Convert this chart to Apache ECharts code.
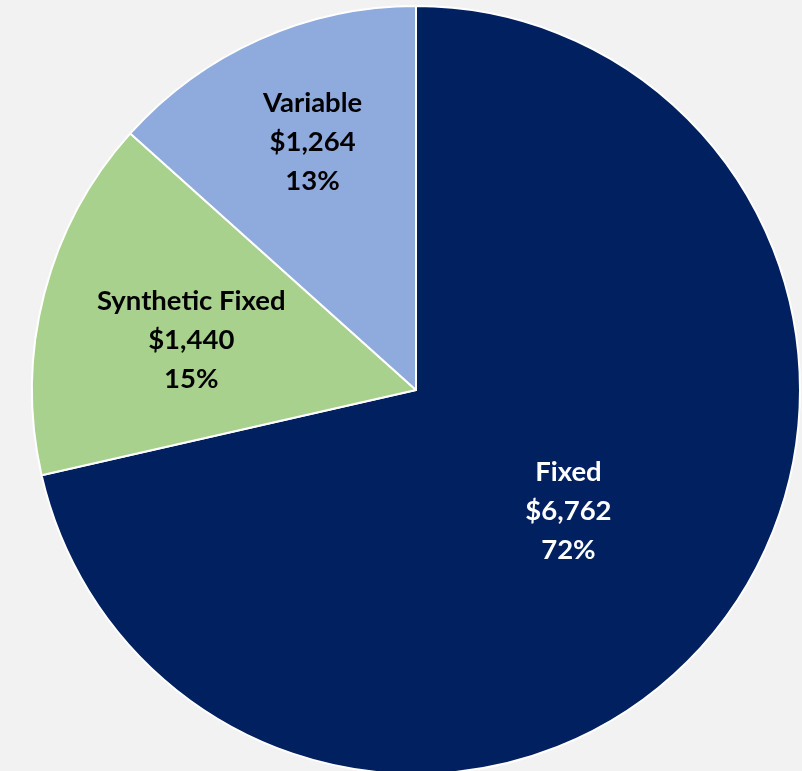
<!DOCTYPE html>
<html>
<head>
<meta charset="utf-8">
<script src="https://cdn.jsdelivr.net/npm/echarts@6/dist/echarts.min.js"></script>
<style>
html,body{margin:0;padding:0;background:#f2f2f2;}
#c{width:802px;height:771px;}
</style>
</head>
<body>
<div id="c"></div>
<script>
const categories = ['Fixed', 'Synthetic Fixed', 'Variable'];
const values = [6762, 1440, 1264];
const colors = ['#002060', '#A9D18E', '#8FAADC'];
const labelColors = ['#ffffff', '#000000', '#000000'];
const labelOffsets = [[0, 0], [-36, -1], [-24, -70]];

const chart = echarts.init(document.getElementById('c'));
chart.setOption({
  backgroundColor: '#f2f2f2',
  animation: false,
  series: [{
    type: 'pie',
    center: [416, 390],
    radius: 384,
    startAngle: 90,
    clockwise: true,
    percentPrecision: 0,
    data: categories.map((name, i) => ({
      name: name,
      value: values[i],
      itemStyle: { color: colors[i] },
      label: { color: labelColors[i], offset: labelOffsets[i] }
    })),
    itemStyle: { borderColor: '#ffffff', borderWidth: 2 },
    label: {
      show: true,
      position: 'inside',
      fontFamily: 'Lato',
      fontWeight: 'bold',
      fontSize: 27.5,
      lineHeight: 39,
      formatter: p => p.name + '\n$' + p.value.toLocaleString('en-US') + '\n' + p.percent + '%'
    },
    labelLine: { show: false },
    emphasis: { disabled: true }
  }]
});
</script>
</body>
</html>
